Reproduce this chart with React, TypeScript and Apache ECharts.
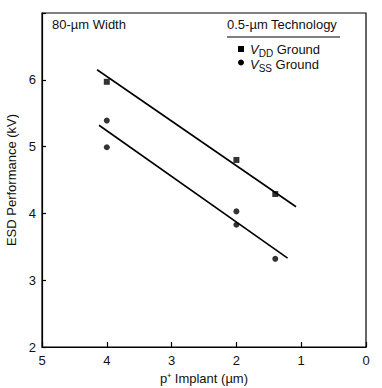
import React, { useEffect, useRef } from "react";
import * as echarts from "echarts";

const xTicks = [5, 4, 3, 2, 1, 0];
const yTicks = [2, 3, 4, 5, 6];
const vddPoints: [number, number][] = [
  [4.0, 5.97],
  [2.0, 4.8],
  [1.4, 4.29],
];
const vssPoints: [number, number][] = [
  [4.0, 5.39],
  [4.0, 4.99],
  [2.0, 4.03],
  [2.0, 3.83],
  [1.4, 3.32],
];
const vddFit: [number, number][] = [
  [4.15, 6.15],
  [1.08, 4.1],
];
const vssFit: [number, number][] = [
  [4.12, 5.32],
  [1.21, 3.33],
];

const FONT = "Liberation Sans";
const INK = "#111";

const legendRich = {
  v: { fontSize: 13, fontStyle: "italic", fontFamily: FONT, fill: INK, lineHeight: 16 },
  s: { fontSize: 10, fontFamily: FONT, fill: INK, padding: [7, 0, 0, 0], lineHeight: 16 },
  t: { fontSize: 13, fontFamily: FONT, fill: INK, lineHeight: 16 },
};

export default function App() {
  const ref = useRef<HTMLDivElement>(null);
  useEffect(() => {
    if (!ref.current) return;
    const chart = echarts.init(ref.current, undefined, { renderer: "svg" });
    chart.setOption({
      animation: false,
      backgroundColor: "#fff",
      textStyle: { fontFamily: FONT },
      grid: {
        left: 42,
        right: 16,
        top: 13,
        bottom: 41,
        outerBoundsMode: "none",
        containLabel: false,
        show: true,
        borderColor: "#000",
        borderWidth: 1.2,
      },
      xAxis: {
        type: "value",
        min: 0,
        max: 5,
        interval: 1,
        inverse: true,
        name: "p\u207A Implant (\u00B5m)",
        nameLocation: "middle",
        nameGap: 21,
        nameTextStyle: { color: INK, fontSize: 13, fontFamily: FONT },
        axisLine: { show: true, onZero: false, lineStyle: { color: "#000", width: 1.2 } },
        axisTick: { show: true, inside: true, length: 5, lineStyle: { color: "#000", width: 1.2 } },
        axisLabel: {
          color: INK,
          fontSize: 13,
          margin: 7,
          fontFamily: FONT,
          formatter: (v: number) => (xTicks.includes(v) ? String(v) : ""),
        },
        splitLine: { show: false },
      },
      yAxis: {
        type: "value",
        min: 2,
        max: 7,
        interval: 1,
        name: "ESD Performance (kV)",
        nameLocation: "middle",
        nameGap: 24,
        nameRotate: 90,
        nameTextStyle: { color: INK, fontSize: 13, fontFamily: FONT },
        axisLine: { show: true, onZero: false, lineStyle: { color: "#000", width: 1.2 } },
        axisTick: { show: true, inside: true, length: 4, lineStyle: { color: "#000", width: 1.2 } },
        axisLabel: {
          color: INK,
          fontSize: 13,
          margin: 6,
          fontFamily: FONT,
          formatter: (v: number) => (yTicks.includes(v) ? String(v) : ""),
        },
        splitLine: { show: false },
      },
      series: [
        {
          type: "line",
          data: vddFit,
          symbol: "none",
          lineStyle: { color: "#000", width: 1.6 },
          silent: true,
        },
        {
          type: "line",
          data: vssFit,
          symbol: "none",
          lineStyle: { color: "#000", width: 1.6 },
          silent: true,
        },
        {
          type: "scatter",
          name: "VDD Ground",
          data: vddPoints,
          symbol: "rect",
          symbolSize: 6,
          itemStyle: { color: "#000" },
        },
        {
          type: "scatter",
          name: "VSS Ground",
          data: vssPoints,
          symbol: "circle",
          symbolSize: 6,
          itemStyle: { color: "#000" },
        },
      ],
      graphic: [
        {
          type: "text",
          left: 52,
          top: 18,
          style: { text: "80-\u00B5m Width", fontSize: 13, fontFamily: FONT, fill: INK },
        },
        {
          type: "text",
          left: 227,
          top: 18,
          style: { text: "0.5-\u00B5m Technology", fontSize: 13, fontFamily: FONT, fill: INK },
        },
        {
          type: "line",
          shape: { x1: 227, y1: 37, x2: 340, y2: 37 },
          style: { stroke: "#000", lineWidth: 1.2 },
        },
        {
          type: "rect",
          shape: { x: 238, y: 46, width: 6, height: 6 },
          style: { fill: "#000" },
        },
        {
          type: "circle",
          shape: { cx: 241, cy: 62.5, r: 3 },
          style: { fill: "#000" },
        },
        {
          type: "text",
          left: 250,
          top: 41,
          style: { text: "{v|V}{s|DD}{t| Ground}", rich: legendRich },
        },
        {
          type: "text",
          left: 250,
          top: 56,
          style: { text: "{v|V}{s|SS}{t| Ground}", rich: legendRich },
        },
      ],
    });
    return () => chart.dispose();
  }, []);
  return <div ref={ref} style={{ width: 382, height: 388, position: "absolute", left: 0, top: 0 }} />;
}
